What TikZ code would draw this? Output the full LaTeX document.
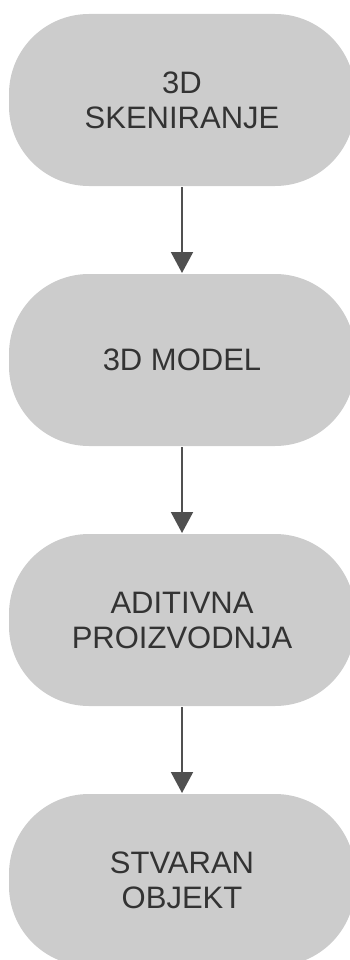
\documentclass[tikz,border=0pt]{standalone}
\usepackage{fontspec}
\setmainfont{Liberation Sans}
\usepackage{tikz}
\usetikzlibrary{arrows.meta}
\definecolor{cbox}{HTML}{CCCCCC}
\definecolor{ctext}{HTML}{333333}
\definecolor{carrow}{HTML}{505050}

\begin{document}
\begin{tikzpicture}[->,>={Triangle[width=22pt,length=21pt]},auto,node distance=260pt,
  line width=2pt,
  step node/.style={rectangle,rounded corners=80pt,fill=cbox,draw=none,text=ctext,
    minimum width=346pt,minimum height=172pt,inner sep=0pt,align=center,
    font=\fontsize{31}{35}\selectfont}]
  \useasboundingbox (0pt,0pt) rectangle (350pt,-960pt);
  \node[step node] (1) at (182pt,-100pt) {3D\\SKENIRANJE};
  \node[step node] (2) [below of=1] {3D MODEL};
  \node[step node] (3) [below of=2] {ADITIVNA\\PROIZVODNJA};
  \node[step node] (4) [below of=3] {STVARAN\\OBJEKT};

  \path[every edge/.style={draw=carrow,->}]
    (1) edge (2)
    (2) edge (3)
    (3) edge (4);
\end{tikzpicture}
\end{document}
